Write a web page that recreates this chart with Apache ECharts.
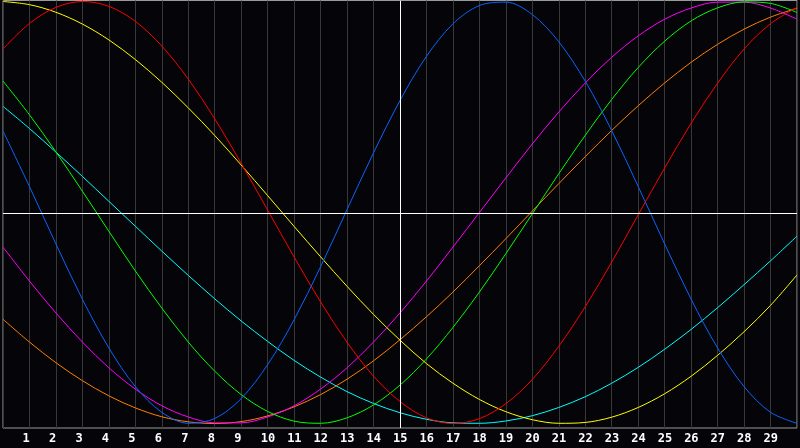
<!DOCTYPE html>
<html><head><meta charset="utf-8">
<script src="https://cdn.jsdelivr.net/npm/echarts@6/dist/echarts.min.js"></script>
<style>html,body{margin:0;padding:0;background:#050408;}#c{width:800px;height:448px;}</style>
</head><body><div id="c"></div>
<script>
// Days along the x axis
const days = [0,1,2,3,4,5,6,7,8,9,10,11,12,13,14,15,16,17,18,19,20,21,22,23,24,25,26,27,28,29,30];
// Tick labels shown under the chart
const tickLabels = [1,2,3,4,5,6,7,8,9,10,11,12,13,14,15,16,17,18,19,20,21,22,23,24,25,26,27,28,29];
// Marked day (vertical white line)
const markedDay = 15;

// Cycle values (percent) at each day
const physical     = [38.6,12.3,-14.9,-41.1,-64.2,-82.5,-94.7,-99.9,-97.6,-88.2,-72.1,-50.8,-25.7,1.4,28.3,53.1,74.0,89.4,98.1,99.7,93.8,80.9,62.2,38.8,12.3,-14.9,-41.1,-64.2,-82.5,-94.7,-99.9];
const emotional    = [77.5,89.6,97.2,100,97.7,90.6,78.9,63.2,44.4,23.3,1.1,-21.1,-42.4,-61.5,-77.6,-89.6,-97.3,-100,-97.7,-90.6,-79.1,-63.4,-44.6,-23.5,-1.1,21.1,42.3,61.3,77.5,89.5,97.2];
const intellectual = [62.3,46.3,28.7,10.1,-8.9,-27.7,-45.3,-61.4,-75.2,-86.3,-94.3,-98.9,-99.9,-97.3,-91.2,-81.8,-69.4,-54.5,-37.7,-19.5,-0.6,18.4,36.6,53.6,68.7,81.2,90.8,97.0,99.8,99.1,94.8];
const intuitive    = [-16.4,-32.5,-47.6,-61.4,-73.6,-83.7,-91.6,-96.9,-99.7,-99.7,-96.9,-91.6,-83.7,-73.6,-61.4,-47.6,-32.5,-16.4,0,16.4,32.5,47.6,61.4,73.6,83.7,91.6,96.9,99.7,99.7,96.9,91.6];
const aesthetic    = [100,98.5,94.9,89.3,81.8,72.5,61.7,49.6,36.5,22.5,8.0,-6.6,-21.0,-35.0,-48.3,-60.5,-71.6,-80.9,-88.6,-94.4,-98.2,-99.9,-99.5,-97.0,-92.4,-85.9,-77.6,-67.7,-56.5,-44.0,-29.6];
const awareness    = [-50.6,-61.4,-71.2,-79.7,-86.9,-92.6,-96.8,-99.2,-100,-99.1,-96.4,-92.1,-86.3,-79.0,-70.3,-60.3,-49.4,-37.7,-25.2,-12.4,0.7,13.7,26.5,38.9,50.6,61.4,71.2,79.7,86.9,92.6,96.8];
const spiritual    = [50.3,39.8,28.6,17.1,5.3,-6.5,-18.3,-29.8,-40.9,-51.4,-61.1,-70.1,-78.0,-84.9,-90.5,-94.9,-98.0,-99.7,-99.9,-98.8,-96.3,-92.4,-87.3,-80.9,-73.4,-64.8,-55.4,-45.1,-34.2,-22.9,-11.2];

const seriesDefs = [
  {name:'Spiritual',    data: spiritual,    color:'#00ffff'},
  {name:'Awareness',    data: awareness,    color:'#ff8000'},
  {name:'Intuitive',    data: intuitive,    color:'#ff00ff'},
  {name:'Intellectual', data: intellectual, color:'#00ff00'},
  {name:'Aesthetic',    data: aesthetic,    color:'#ffff00'},
  {name:'Emotional',    data: emotional,    color:'#ff0000'},
  {name:'Physical',     data: physical,     color:'#0a64ff'}
];

const chart = echarts.init(document.getElementById('c'), null, {renderer:'canvas'});
const series = seriesDefs.map(s => ({
  name: s.name,
  type: 'line',
  data: days.map((d, i) => [d, s.data[i]]),
  smooth: 0.33,
  showSymbol: false,
  symbol: 'none',
  lineStyle: {color: s.color, width: 1},
  itemStyle: {color: s.color},
  z: 3
}));
series.unshift({
  name: 'marks',
  type: 'line',
  data: [],
  z: 2,
  markLine: {
    silent: true,
    symbol: 'none',
    label: {show: false},
    lineStyle: {color: '#ffffff', width: 1, type: 'solid'},
    data: [{xAxis: markedDay}, {yAxis: -0.5}]
  }
});

chart.setOption({
  backgroundColor: '#050408',
  animation: false,
  grid: {left: 0.5, right: 0.5, top: 0.5, bottom: 20, show: true, borderColor: '#9a9a9a', borderWidth: 1, backgroundColor: 'transparent'},
  xAxis: {
    type: 'value', min: 0, max: 30, interval: 1,
    axisLine: {show: false},
    axisTick: {show: false},
    splitLine: {show: true, lineStyle: {color: '#383838', width: 1}},
    axisLabel: {
      margin: 5,
      align: 'center',
      formatter: v => tickLabels.indexOf(v) >= 0 ? '{d|' + v + '}' : '',
      rich: {d: {width: 14, align: 'left', color: '#ffffff', fontWeight: 'bold', fontFamily: 'DejaVu Sans Mono', fontSize: 12}}
    }
  },
  yAxis: {
    type: 'value', min: -102.13, max: 100.47,
    axisLine: {show: false}, axisTick: {show: false}, axisLabel: {show: false},
    splitLine: {show: false}
  },
  series: series
});
</script>
</body></html>
